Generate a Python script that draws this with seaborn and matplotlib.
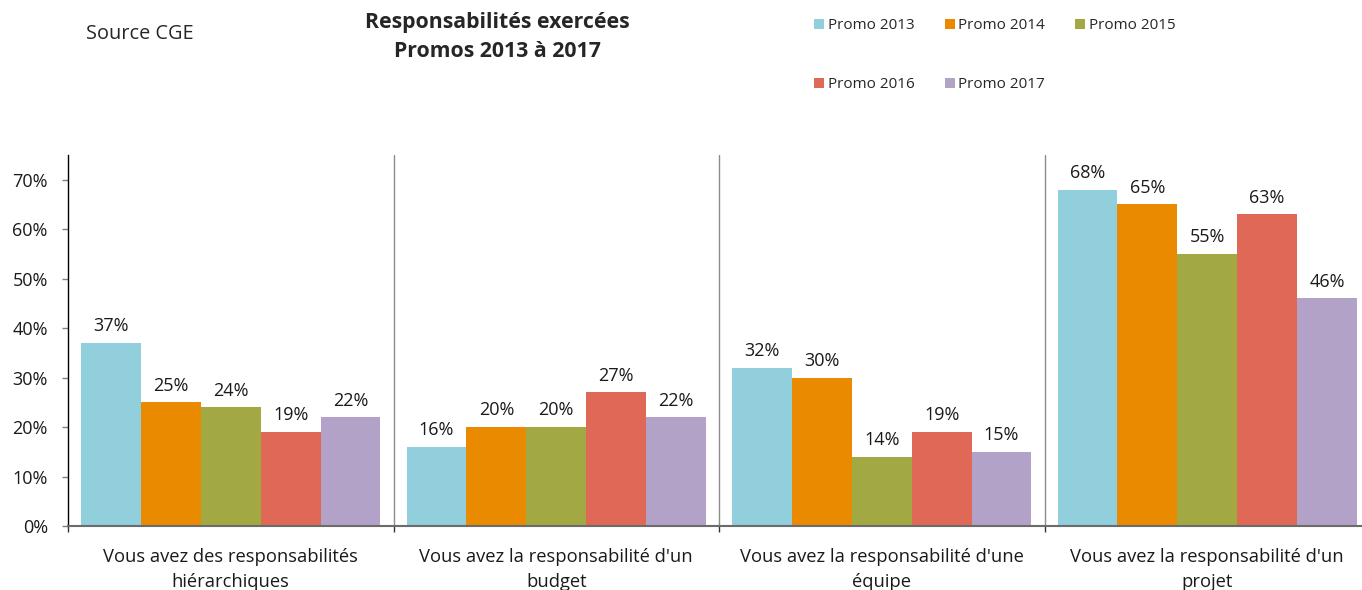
import matplotlib
matplotlib.use("Agg")
import matplotlib.pyplot as plt
import seaborn as sns
import pandas as pd
from matplotlib.ticker import FuncFormatter, FixedLocator

categories = [
    "Vous avez des responsabilités\nhiérarchiques",
    "Vous avez la responsabilité d'un\nbudget",
    "Vous avez la responsabilité d'une\néquipe",
    "Vous avez la responsabilité d'un\nprojet",
]
promos = ["Promo 2013", "Promo 2014", "Promo 2015", "Promo 2016", "Promo 2017"]
promo_2013 = [37, 16, 32, 68]
promo_2014 = [25, 20, 30, 65]
promo_2015 = [24, 20, 14, 55]
promo_2016 = [19, 27, 19, 63]
promo_2017 = [22, 22, 15, 46]
yticks = [0, 10, 20, 30, 40, 50, 60, 70]
colors = ["#92CFDD", "#E98A00", "#A3A942", "#E06857", "#B2A2C7"]

series = [promo_2013, promo_2014, promo_2015, promo_2016, promo_2017]
rows = []
for p, vals in zip(promos, series):
    for c, v in zip(categories, vals):
        rows.append({"cat": c, "promo": p, "val": v})
df = pd.DataFrame(rows)

sns.set_style("white")
plt.rcParams["font.family"] = ["Open Sans", "DejaVu Sans"]

fig = plt.figure(figsize=(13.62, 5.9), dpi=100)
ax = fig.add_axes([68 / 1362, 1 - 526 / 590, (1370 - 68) / 1362, (526 - 155) / 590])

sns.barplot(data=df, x="cat", y="val", hue="promo", order=categories,
            hue_order=promos, palette=colors, saturation=1, width=0.92,
            ax=ax, errorbar=None, edgecolor="none", linewidth=0)

for cont in ax.containers:
    ax.bar_label(cont, labels=[f"{int(v)}%" for v in cont.datavalues],
                 padding=5.5, fontsize=13, color="#1a1a1a")

ax.set_xlim(-0.5, 3.5)
ax.set_ylim(0, 75)
ax.set_xlabel("")
ax.set_ylabel("")

# separators
for xb in [0.5, 1.5, 2.5]:
    ax.axvline(xb, color="#8c8c8c", linewidth=1, zorder=0)

ax.xaxis.set_major_locator(FixedLocator([-0.5, 0.5, 1.5, 2.5, 3.5]))
ax.xaxis.set_major_formatter(FuncFormatter(lambda v, p: ""))
ax.xaxis.set_minor_locator(FixedLocator([0, 1, 2, 3]))
ax.set_xticklabels(categories, minor=True, linespacing=1.5)
ax.tick_params(axis="x", which="major", direction="out", length=4.5, color="#333333", width=1, bottom=True)
ax.tick_params(axis="x", which="minor", length=0, pad=15.5, labelsize=13.2, labelcolor="#1a1a1a")

ax.set_yticks(yticks)
ax.yaxis.set_major_formatter(FuncFormatter(lambda v, p: f"{int(v)}%"))
ax.tick_params(axis="y", direction="out", length=4.5, color="#808080", width=1, left=True,
               labelsize=13, labelcolor="#1a1a1a", pad=10)

for s in ["top", "right"]:
    ax.spines[s].set_visible(False)
ax.spines["left"].set_color("#000000")
ax.spines["left"].set_linewidth(1)
ax.spines["bottom"].set_color("#6b6b6b")
ax.spines["bottom"].set_linewidth(1.5)

leg = ax.get_legend()
if leg is not None:
    leg.remove()
handles, labels = ax.get_legend_handles_labels()
order = [0, 3, 1, 4, 2]
fig.legend([handles[i] for i in order], [labels[i] for i in order], ncol=3,
           loc="upper left", bbox_to_anchor=(814 / 1362, 1 - 18 / 590),
           frameon=False, fontsize=11, handlelength=0.65, handleheight=0.65,
           handletextpad=0.26, columnspacing=1.96, labelspacing=2.88,
           borderaxespad=0, borderpad=0)

fig.text(497 / 1362, 1 - 37 / 590, "Responsabilités exercées\nPromos 2013 à 2017",
         ha="center", va="center", fontsize=15.3, fontweight="bold", linespacing=1.45)
fig.text(86 / 1362, 1 - 34 / 590, "Source CGE", ha="left", va="center", fontsize=14.3)

fig.savefig("out.png", dpi=100)
